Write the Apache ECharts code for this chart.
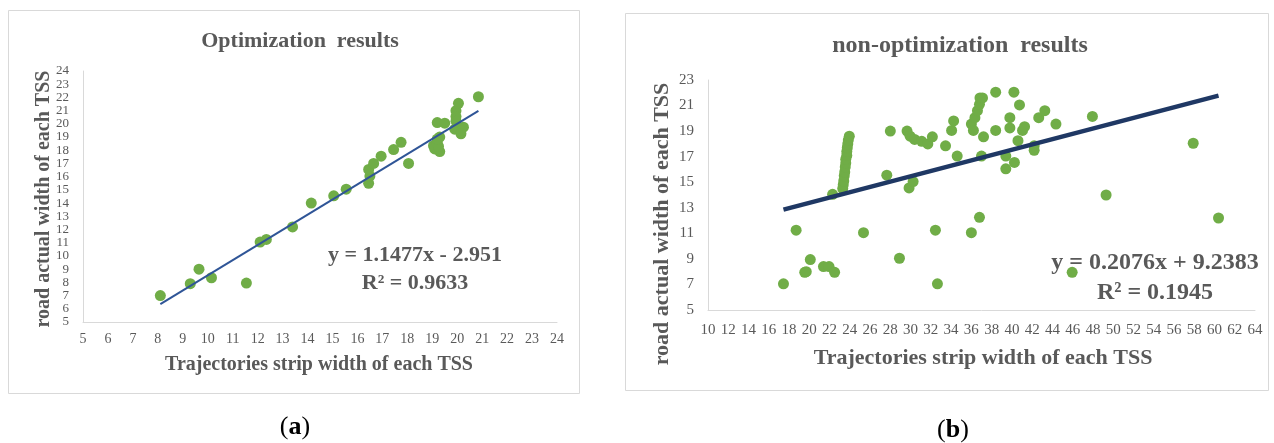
<!DOCTYPE html>
<html>
<head>
<meta charset="utf-8">
<script src="https://cdn.jsdelivr.net/npm/echarts@6/dist/echarts.min.js"></script>
<style>
  html, body { margin: 0; padding: 0; background: #ffffff; }
  #chart { width: 1274px; height: 443px; }
</style>
</head>
<body>
<div id="chart"></div>
<script>
// Panel (a): optimized trajectory strip width vs. road actual width
const optX = [8.1, 9.3, 9.65, 10.15, 11.55, 12.1, 12.35, 13.4, 14.15, 15.05, 15.55,
  16.45, 16.5, 16.45, 16.65, 16.95, 17.45, 17.75, 18.05,
  19.2, 19.5, 19.1, 19.05, 19.2, 19.3, 19.25, 19.3, 19.2,
  19.95, 20.05, 19.95, 19.95, 19.9, 20.25, 20.15, 20.85];
const optY = [7.0, 7.9, 9.0, 8.35, 7.95, 11.05, 11.25, 12.2, 14.0, 14.55, 15.05,
  15.5, 16.05, 16.55, 17.0, 17.55, 18.05, 18.6, 17.0,
  20.1, 20.05, 18.1, 18.35, 18.55, 17.9, 18.3, 19.0, 18.85,
  21.0, 21.55, 20.55, 20.2, 19.6, 19.75, 19.25, 22.05];
const optFit = { slope: 1.1477, intercept: -2.951, r2: 0.9633 };

// Panel (b): non-optimized trajectory strip width vs. road actual width
const nonX = [17.45, 18.7, 19.55, 19.7, 20.1, 21.4, 21.95, 22.5, 22.3,
  23.3, 23.35, 23.4, 23.45, 23.5, 23.55, 23.6, 23.6, 23.7, 23.7, 23.75, 23.8, 23.85, 23.95,
  25.35, 27.65, 28.0, 28.9, 29.65, 29.95, 30.4, 31.1, 31.7, 32.15, 29.85, 30.25,
  32.45, 32.65, 33.45, 34.05, 34.25, 34.6,
  36.0, 36.2, 36.35, 36.6, 36.8, 36.85, 37.1, 37.2, 37.0, 36.8, 36.0,
  38.4, 38.4, 40.2, 40.75, 39.8, 39.8, 39.4, 39.4, 40.25, 40.6, 41.05, 41.25,
  42.2, 42.2, 42.65, 43.25, 44.35, 45.95, 47.95, 49.3, 57.9, 60.4];
const nonY = [7.05, 11.25, 7.95, 8.0, 8.95, 8.4, 8.4, 7.95, 14.05,
  14.5, 14.8, 15.1, 15.5, 15.8, 16.2, 16.5, 16.8, 17.1, 17.4, 17.7, 18.0, 18.3, 18.6,
  11.05, 15.55, 19.0, 9.05, 19.0, 18.6, 18.35, 18.2, 18.0, 18.55, 14.55, 15.05,
  11.25, 7.05, 17.85, 19.05, 19.8, 17.05,
  19.55, 19.05, 20.05, 20.6, 21.1, 21.6, 21.6, 18.55, 17.05, 12.25, 11.05,
  22.05, 19.05, 22.05, 21.05, 20.05, 19.25, 17.05, 16.05, 16.55, 18.25, 19.05, 19.35,
  17.85, 17.5, 20.05, 20.6, 19.55, 7.95, 20.15, 14.0, 18.05, 12.2];
const nonFit = { slope: 0.2076, intercept: 9.2383, r2: 0.1945 };

// Axis ranges and labels
const optXRange = [5, 24, 1];
const optYRange = [5, 24, 1];
const nonXRange = [10, 64, 2];
const nonYRange = [5, 23, 2];
const panelTitles = ['Optimization  results', 'non-optimization  results'];
const xAxisTitle = 'Trajectories strip width of each TSS';
const yAxisTitle = 'road actual width of each TSS';
const panelTags = ['a', 'b'];

const serif = '"Liberation Serif", "Times New Roman", serif';
const grey = '#595959';
const green = '#70AD47';

function pairs(xs, ys) { return xs.map((x, i) => [x, ys[i]]); }
function fitLine(xs, fit) {
  const lo = Math.min(...xs), hi = Math.max(...xs);
  return [[lo, fit.slope * lo + fit.intercept], [hi, fit.slope * hi + fit.intercept]];
}
function eqText(fit) {
  const sign = fit.intercept < 0 ? ' - ' : ' + ';
  return 'y = ' + fit.slope + 'x' + sign + Math.abs(fit.intercept);
}

function valueAxis(gridIndex, range, labelSize, margin) {
  return {
    type: 'value', gridIndex,
    min: range[0], max: range[1], interval: range[2],
    axisLine: { show: true, lineStyle: { color: '#D9D9D9', width: 1 } },
    axisTick: { show: false },
    splitLine: { show: false },
    axisLabel: { color: grey, fontFamily: serif, fontSize: labelSize, margin,
      showMinLabel: true, showMaxLabel: true, hideOverlap: false }
  };
}

function axisTitle(x, y, size, rotated) {
  return {
    type: 'text', x, y, rotation: rotated ? Math.PI / 2 : 0, z: 10,
    style: { text: rotated ? yAxisTitle : xAxisTitle, fontFamily: serif, fontWeight: 'bold',
      fontSize: size, fill: grey, align: 'center', verticalAlign: 'middle' }
  };
}

const chart = echarts.init(document.getElementById('chart'), null, { renderer: 'canvas' });

chart.setOption({
  animation: false,
  backgroundColor: '#ffffff',
  title: [
    { text: panelTitles[0], left: 295, top: 25, textAlign: 'center',
      textStyle: { fontFamily: serif, fontWeight: 'bold', fontSize: 22, color: grey } },
    { text: panelTitles[1], left: 955, top: 29, textAlign: 'center',
      textStyle: { fontFamily: serif, fontWeight: 'bold', fontSize: 24, color: grey } }
  ],
  grid: [
    { left: 83, top: 71, width: 474, height: 251 },
    { left: 708, top: 80, width: 547, height: 230 }
  ],
  xAxis: [
    valueAxis(0, optXRange, 14, 10),
    valueAxis(1, nonXRange, 15, 13)
  ],
  yAxis: [
    valueAxis(0, optYRange, 13, 14),
    valueAxis(1, nonYRange, 15, 14)
  ],
  series: [
    { type: 'scatter', xAxisIndex: 0, yAxisIndex: 0, symbolSize: 11,
      itemStyle: { color: green, opacity: 1 }, data: pairs(optX, optY), z: 2 },
    { type: 'line', xAxisIndex: 0, yAxisIndex: 0, symbol: 'none',
      lineStyle: { color: '#2F5597', width: 2 }, data: fitLine(optX, optFit), z: 3 },
    { type: 'scatter', xAxisIndex: 1, yAxisIndex: 1, symbolSize: 11,
      itemStyle: { color: green, opacity: 1 }, data: pairs(nonX, nonY), z: 2 },
    { type: 'line', xAxisIndex: 1, yAxisIndex: 1, symbol: 'none',
      lineStyle: { color: '#1F3864', width: 4.5 }, data: fitLine(nonX, nonFit), z: 3 }
  ],
  graphic: [
    { type: 'rect', shape: { x: 8.5, y: 10.5, width: 571, height: 383 },
      style: { fill: null, stroke: '#D9D9D9', lineWidth: 1 }, z: -1 },
    { type: 'rect', shape: { x: 625.5, y: 13.5, width: 643, height: 377 },
      style: { fill: null, stroke: '#D9D9D9', lineWidth: 1 }, z: -1 },
    axisTitle(319, 365, 20, false),
    axisTitle(983, 358, 22, false),
    axisTitle(44, 199, 20, true),
    axisTitle(662, 224, 22, true),
    { type: 'text', x: 415, y: 255, z: 10,
      style: { text: eqText(optFit), fontFamily: serif, fontWeight: 'bold', fontSize: 22,
        fill: grey, align: 'center', verticalAlign: 'middle' } },
    { type: 'text', x: 415, y: 283, z: 10,
      style: { text: 'R² = ' + optFit.r2, fontFamily: serif, fontWeight: 'bold', fontSize: 22,
        fill: grey, align: 'center', verticalAlign: 'middle' } },
    { type: 'text', x: 1155, y: 263, z: 10,
      style: { text: eqText(nonFit), fontFamily: serif, fontWeight: 'bold', fontSize: 24,
        fill: grey, align: 'center', verticalAlign: 'middle' } },
    { type: 'text', x: 1155, y: 293, z: 10,
      style: { text: 'R² = ' + nonFit.r2, fontFamily: serif, fontWeight: 'bold', fontSize: 24,
        fill: grey, align: 'center', verticalAlign: 'middle' } },
    { type: 'text', x: 295, y: 427,
      style: { text: '{p|(}{t|' + panelTags[0] + '}{p|)}', align: 'center', verticalAlign: 'middle',
        rich: { p: { fontFamily: serif, fontSize: 26, fill: '#000' },
                t: { fontFamily: serif, fontSize: 26, fontWeight: 'bold', fill: '#000' } } } },
    { type: 'text', x: 953, y: 430,
      style: { text: '{p|(}{t|' + panelTags[1] + '}{p|)}', align: 'center', verticalAlign: 'middle',
        rich: { p: { fontFamily: serif, fontSize: 26, fill: '#000' },
                t: { fontFamily: serif, fontSize: 26, fontWeight: 'bold', fill: '#000' } } } }
  ]
});
</script>
</body>
</html>
